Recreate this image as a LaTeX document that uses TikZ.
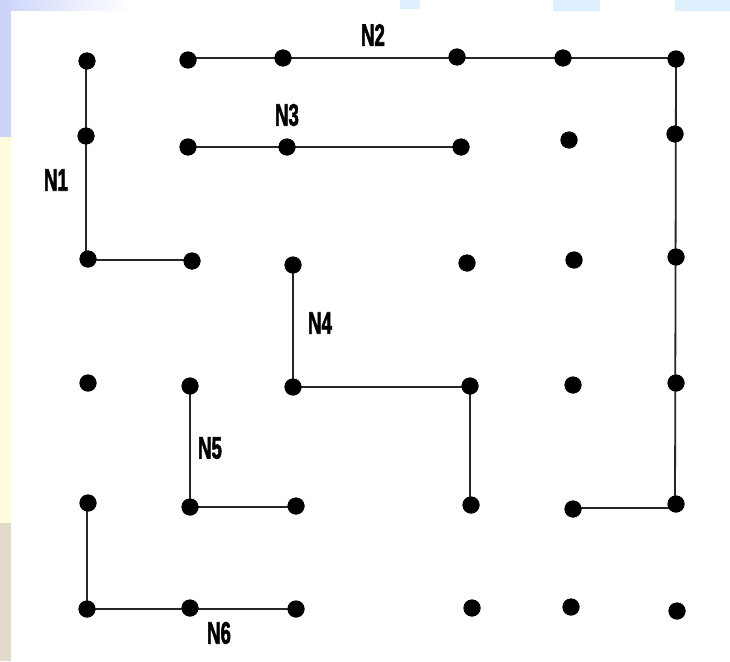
\documentclass[tikz,border=0pt]{standalone}
\usepackage{fontspec}
\setmainfont{Liberation Sans}
\newfontfamily\netfont{Liberation Sans}[UprightFont=* Bold, FakeBold=2.5]
\usepackage{graphicx}
\definecolor{slideblue}{RGB}{204,212,250}
\definecolor{slidelight}{RGB}{222,240,255}
\definecolor{slideyellow}{RGB}{255,252,222}
\definecolor{slidebeige}{RGB}{226,219,202}
\tikzset{
  pt/.style={circle, fill=black, inner sep=0pt, minimum size=17pt},
  wire/.style={draw=black!85, line width=1.8pt},
  lbl/.style={inner sep=0pt}
}
\newcommand{\netlabel}[1]{\scalebox{0.6}[1]{\netfont\fontsize{31}{31}\selectfont #1}}
\begin{document}
\begin{tikzpicture}[x=1pt, y=-1pt]
\useasboundingbox (0,0) rectangle (730,661);
% slide background edges
\fill[white] (0,0) rectangle (730,661);
\shade[left color=slideblue, right color=white] (0,0) rectangle (130,11);
\fill[slideblue] (0,0) rectangle (11,137);
\fill[slideyellow] (0,137) rectangle (11,523);
\fill[slidebeige] (0,523) rectangle (11,661);
\fill[slidelight] (400,0) rectangle (420,9);
\fill[slidelight] (553,0) rectangle (600,11);
\fill[slidelight] (675,0) rectangle (730,11);
\fill[white] (11,11) rectangle (730,661);

% grid of pins, row by row
\node[pt] (a1) at (87,61) {};  \node[pt] (b1) at (188,60) {};
\node[pt] (c1) at (283,58) {}; \node[pt] (d1) at (457,57) {};
\node[pt] (e1) at (563,58) {}; \node[pt] (f1) at (676,59) {};

\node[pt] (a2) at (86,136) {};  \node[pt] (b2) at (188,147) {};
\node[pt] (c2) at (287,147) {}; \node[pt] (d2) at (461,147) {};
\node[pt] (e2) at (569,140) {}; \node[pt] (f2) at (675,134) {};

\node[pt] (a3) at (88,259) {};  \node[pt] (b3) at (192,261) {};
\node[pt] (c3) at (293,265) {}; \node[pt] (d3) at (467,263) {};
\node[pt] (e3) at (574,260) {}; \node[pt] (f3) at (676,257) {};

\node[pt] (a4) at (88,383) {};  \node[pt] (b4) at (190,386) {};
\node[pt] (c4) at (293,387) {}; \node[pt] (d4) at (470,386) {};
\node[pt] (e4) at (573,385) {}; \node[pt] (f4) at (676,383) {};

\node[pt] (a5) at (88,503) {};  \node[pt] (b5) at (190,507) {};
\node[pt] (c5) at (296,506) {}; \node[pt] (d5) at (471,505) {};
\node[pt] (e5) at (573,509) {}; \node[pt] (f5) at (676,504) {};

\node[pt] (a6) at (87,609) {};  \node[pt] (b6) at (190,608) {};
\node[pt] (c6) at (296,609) {}; \node[pt] (d6) at (472,608) {};
\node[pt] (e6) at (571,607) {}; \node[pt] (f6) at (677,611) {};

% routed nets, kept on straight tracks
\coordinate (x1) at (86,0);   % N1 column
\coordinate (y1) at (0,260);  % N1 row
\coordinate (y2) at (0,58);   % N2 row
\coordinate (x2) at (675,0);  % N2 column
\coordinate (y2b) at (0,508); % N2 tail row
\draw[wire] (a1 -| x1) -- (x1 |- y1) -- (b3 |- y1);
\draw[wire] (b1 |- y2) -- (f1 |- y2) -- (x2 |- y2b) -- (e5 |- y2b);
\draw[wire] (b2.center) -- (d2.center);
\draw[wire] (c3.center) -- (c4.center) -- (c4 -| d4) -- (d5 -| d4);
\draw[wire] (b4.center) -- (b5.center) -- (b5 -| c5);
\draw[wire] (a5 -| a6) -- (a6.center) -- (a6 -| c6);

% redraw pins over the wires
\foreach \n in {a1,b1,c1,d1,e1,f1,a2,b2,c2,d2,e2,f2,a3,b3,c3,d3,e3,f3,
                a4,b4,c4,d4,e4,f4,a5,b5,c5,d5,e5,f5,a6,b6,c6,d6,e6,f6}
  \fill (\n) circle (8.5pt);

% net names
\node[lbl] (n1) at (56,180) {\netlabel{N1}};
\node[lbl] (n2) at (373,35) {\netlabel{N2}};
\node[lbl] (n3) at (287,115) {\netlabel{N3}};
\node[lbl] (n4) at (320,323) {\netlabel{N4}};
\node[lbl] (n5) at (210,448) {\netlabel{N5}};
\node[lbl] (n6) at (219,633) {\netlabel{N6}};
\end{tikzpicture}
\end{document}
